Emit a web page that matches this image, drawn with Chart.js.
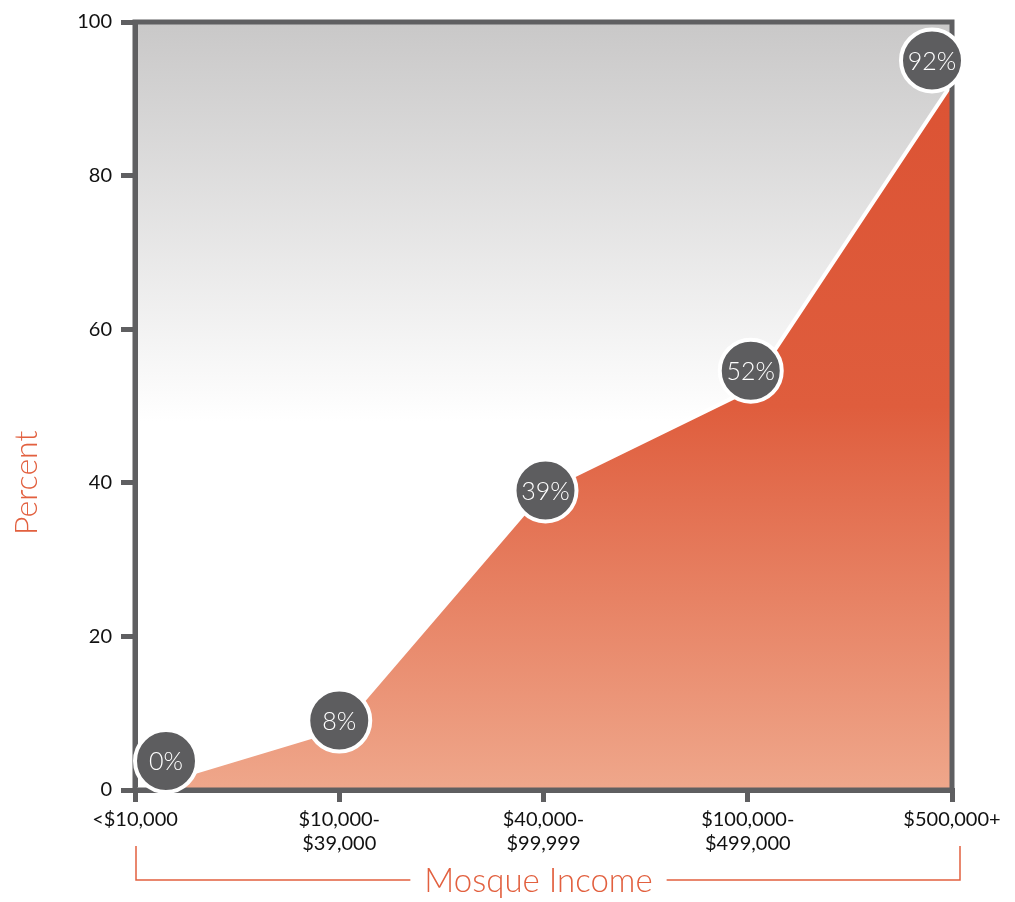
<!DOCTYPE html>
<html lang="en">
<head>
<meta charset="UTF-8">
<title>Mosque Income</title>
<script src="https://cdn.jsdelivr.net/npm/chart.js@4.4.1/dist/chart.umd.min.js"></script>
<style>
  html, body { margin: 0; padding: 0; background: #fff; }
  #chart { display: block; }
</style>
</head>
<body>
<canvas id="chart" width="1015" height="902"></canvas>
<script>
const incomeLabels = [['<$10,000'], ['$10,000-', '$39,000'], ['$40,000-', '$99,999'], ['$100,000-', '$499,000'], ['$500,000+']];
const percentValues = [0, 8, 39, 52, 92];
const bubbleLabels = ['0%', '8%', '39%', '52%', '92%'];
const yTickValues = [0, 20, 40, 60, 80, 100];

const axisGrey = '#5f5f61';
const accent = '#e2603f';
// small nudges so the end bubbles sit inside the frame
const bubbleShift = [[31, -29], [0, -8], [2, 0], [3, -20], [-20, -23]];

const plotBackground = {
  id: 'plotBackground',
  beforeDraw(chart) {
    const {ctx, chartArea: a} = chart;
    const g = ctx.createLinearGradient(0, a.top, 0, a.top + a.height * 0.52);
    g.addColorStop(0, '#c9c8c8');
    g.addColorStop(1, '#ffffff');
    ctx.save();
    ctx.fillStyle = g;
    ctx.fillRect(a.left, a.top, a.width, a.height);
    ctx.restore();
  }
};

const frameAndBubbles = {
  id: 'frameAndBubbles',
  afterDatasetsDraw(chart) {
    const {ctx, chartArea: a} = chart;
    ctx.save();
    ctx.strokeStyle = axisGrey;
    ctx.lineWidth = 5;
    ctx.strokeRect(a.left, a.top, a.width, a.height);

    const meta = chart.getDatasetMeta(0);
    meta.data.forEach((pt, i) => {
      const x = pt.x + bubbleShift[i][0];
      const y = pt.y + bubbleShift[i][1];
      ctx.beginPath();
      ctx.arc(x, y, 31, 0, Math.PI * 2);
      ctx.fillStyle = '#5d5d5f';
      ctx.fill();
      ctx.lineWidth = 4;
      ctx.strokeStyle = '#ffffff';
      ctx.stroke();
      ctx.fillStyle = '#ffffff';
      ctx.font = '300 25px Lato';
      ctx.textAlign = 'center';
      ctx.textBaseline = 'middle';
      ctx.fillText(bubbleLabels[i], x, y + 1);
    });
    ctx.restore();
  }
};

const axisTitles = {
  id: 'axisTitles',
  afterDraw(chart) {
    const {ctx, chartArea: a} = chart;
    const text = 'Mosque Income';
    const mid = (a.left + a.right) / 2 - 5;
    const top = a.bottom + 56;
    const y = a.bottom + 90;
    const left = a.left + 1;
    const right = a.right + 8;
    ctx.save();
    ctx.font = '300 33px Lato';
    const w = ctx.measureText(text).width;
    ctx.strokeStyle = accent;
    ctx.lineWidth = 1.5;
    ctx.beginPath();
    ctx.moveTo(left, top);
    ctx.lineTo(left, y);
    ctx.lineTo(mid - w / 2 - 14, y);
    ctx.moveTo(mid + w / 2 + 14, y);
    ctx.lineTo(right, y);
    ctx.lineTo(right, top);
    ctx.stroke();
    ctx.fillStyle = accent;
    ctx.textAlign = 'center';
    ctx.textBaseline = 'middle';
    ctx.fillText(text, mid, y + 1);

    // y title sits a little below the middle of the axis
    ctx.font = '300 32px Lato';
    ctx.translate(27, a.top + a.height * 0.6);
    ctx.rotate(-Math.PI / 2);
    ctx.fillText('Percent', 0, 0);
    ctx.restore();
  }
};

new Chart(document.getElementById('chart'), {
  type: 'line',
  data: {
    labels: incomeLabels,
    datasets: [{
      data: percentValues,
      borderColor: '#ffffff',
      borderWidth: 4,
      pointRadius: 0,
      tension: 0,
      fill: 'origin',
      backgroundColor: (c) => {
        const area = c.chart.chartArea;
        if (!area) return '#e06040';
        const g = c.chart.ctx.createLinearGradient(0, area.top, 0, area.bottom);
        g.addColorStop(0, '#db5132');
        g.addColorStop(0.5, '#df5d3d');
        g.addColorStop(1, '#efa78b');
        return g;
      }
    }]
  },
  options: {
    responsive: false,
    animation: false,
    layout: { padding: { top: 22, right: 63, left: 0, bottom: 0 } },
    plugins: {
      legend: { display: false },
      tooltip: { enabled: false }
    },
    scales: {
      x: {
        offset: false,
        afterFit: (s) => { s.height = 112; },
        grid: { drawOnChartArea: false, drawTicks: true, tickLength: 12, lineWidth: 5, color: axisGrey },
        border: { display: true, width: 5, color: axisGrey },
        ticks: {
          color: '#111',
          font: { family: 'Lato', size: 20, lineHeight: 1.2 },
          padding: 6,
          maxRotation: 0,
          autoSkip: false
        }
      },
      y: {
        min: 0,
        max: 100,
        afterFit: (s) => { s.width = 135; },
        afterBuildTicks: (s) => { s.ticks = yTickValues.map(v => ({ value: v })); },
        grid: { drawOnChartArea: false, drawTicks: true, tickLength: 14, lineWidth: 5, color: axisGrey },
        border: { display: true, width: 5, color: axisGrey },
        ticks: {
          color: '#111',
          font: { family: 'Lato', size: 20 },
          padding: 9
        }
      }
    }
  },
  plugins: [plotBackground, frameAndBubbles, axisTitles]
});
</script>
</body>
</html>
